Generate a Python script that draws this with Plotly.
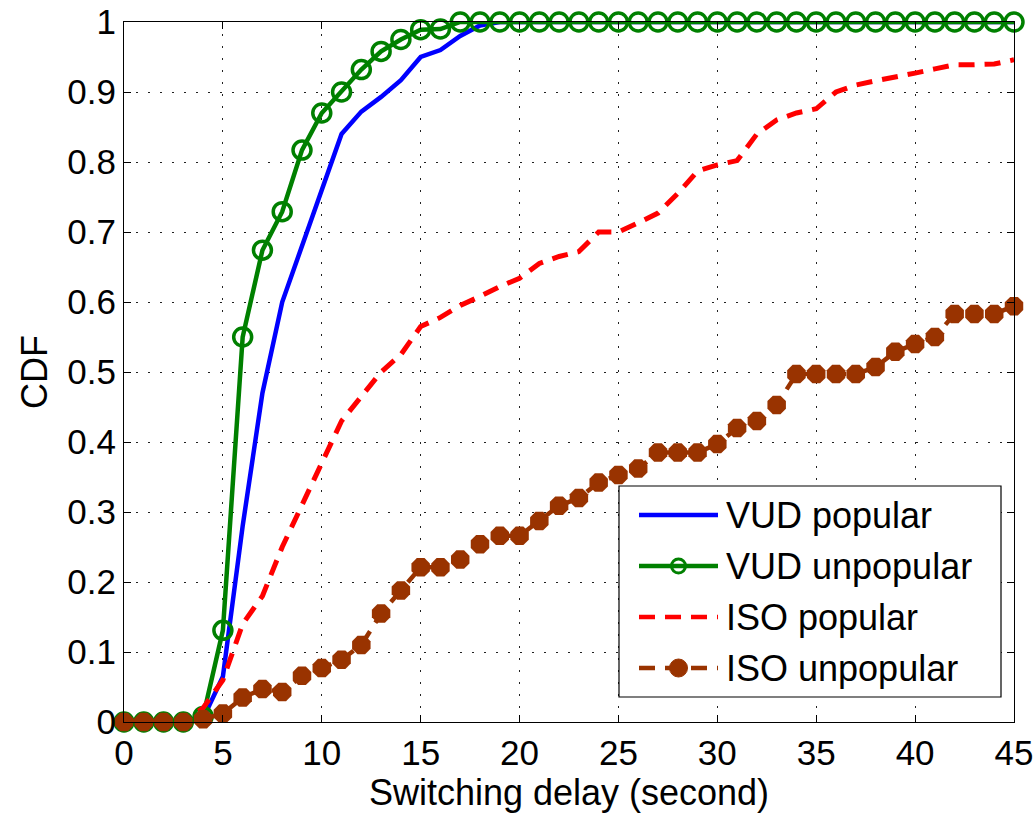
import plotly.graph_objects as go

# Switching delay (seconds), sampled at every integer second
delay = list(range(0, 46))

vud_popular = [0, 0, 0, 0, 0.005, 0.065, 0.28, 0.47, 0.60, 0.68,
               0.76, 0.84, 0.872, 0.893, 0.917, 0.95, 0.96, 0.98, 0.995, 1.0,
               1.0, 1.0, 1.0, 1.0, 1.0, 1.0, 1.0, 1.0, 1.0, 1.0,
               1.0, 1.0, 1.0, 1.0, 1.0, 1.0, 1.0, 1.0, 1.0, 1.0,
               1.0, 1.0, 1.0, 1.0, 1.0, 1.0]

vud_unpopular = [0, 0, 0, 0, 0.008, 0.131, 0.55, 0.674, 0.729, 0.817,
                 0.87, 0.90, 0.932, 0.958, 0.975, 0.989, 0.99, 1.0, 1.0, 1.0,
                 1.0, 1.0, 1.0, 1.0, 1.0, 1.0, 1.0, 1.0, 1.0, 1.0,
                 1.0, 1.0, 1.0, 1.0, 1.0, 1.0, 1.0, 1.0, 1.0, 1.0,
                 1.0, 1.0, 1.0, 1.0, 1.0, 1.0]

iso_popular = [0, 0, 0, 0, 0.02, 0.06, 0.14, 0.18, 0.25, 0.31,
               0.37, 0.43, 0.465, 0.50, 0.525, 0.565, 0.578, 0.595, 0.608, 0.622,
               0.634, 0.655, 0.665, 0.672, 0.70, 0.70, 0.713, 0.727, 0.755, 0.787,
               0.796, 0.802, 0.84, 0.86, 0.87, 0.876, 0.90, 0.91, 0.916, 0.921,
               0.927, 0.933, 0.939, 0.939, 0.94, 0.946]

iso_unpopular = [0, 0, 0, 0, 0.004, 0.012, 0.035, 0.047, 0.043, 0.066,
                 0.077, 0.089, 0.11, 0.155, 0.188, 0.221, 0.221, 0.232, 0.254, 0.266,
                 0.266, 0.287, 0.309, 0.32, 0.342, 0.353, 0.362, 0.385, 0.385, 0.385,
                 0.397, 0.42, 0.43, 0.453, 0.497, 0.497, 0.497, 0.497, 0.507, 0.529,
                 0.54, 0.55, 0.583, 0.583, 0.583, 0.594]

series_names = ["VUD popular", "VUD unpopular", "ISO popular", "ISO unpopular"]
x_ticks = [0, 5, 10, 15, 20, 25, 30, 35, 40, 45]
y_ticks = [0, 0.1, 0.2, 0.3, 0.4, 0.5, 0.6, 0.7, 0.8, 0.9, 1]
y_tick_text = ["0", "0.1", "0.2", "0.3", "0.4", "0.5", "0.6", "0.7", "0.8", "0.9", "1"]

BLUE = "#0000FF"
GREEN = "#008000"
RED = "#FF0000"
BROWN = "#993300"
FONT = "Arial, Liberation Sans, Helvetica, sans-serif"
DASH = "16px,10px"

fig = go.Figure()

fig.add_trace(go.Scatter(
    x=delay, y=vud_popular, mode="lines", name=series_names[0],
    line=dict(color=BLUE, width=4.5), cliponaxis=False))
fig.add_trace(go.Scatter(
    x=delay, y=vud_unpopular, mode="lines+markers", name=series_names[1],
    line=dict(color=GREEN, width=4.5),
    marker=dict(symbol="circle-open", size=18, color=GREEN, line=dict(width=3.5)),
    cliponaxis=False))
fig.add_trace(go.Scatter(
    x=delay, y=iso_popular, mode="lines", name=series_names[2],
    line=dict(color=RED, width=5, dash=DASH), cliponaxis=False))
fig.add_trace(go.Scatter(
    x=delay, y=iso_unpopular, mode="lines+markers", name=series_names[3],
    line=dict(color=BROWN, width=4.5, dash=DASH),
    marker=dict(symbol="octagon", size=20, color=BROWN),
    cliponaxis=False))

# Legend box drawn with shapes so the sample lines can be long
L, R, T, B = 124, 1014, 22, 722


def px_x(p):
    return (p - L) / (R - L)


def px_y(p):
    return (B - p) / (B - T)


shapes = [dict(type="rect", xref="paper", yref="paper",
               x0=px_x(619), x1=px_x(1001), y0=px_y(697), y1=px_y(486),
               line=dict(color="black", width=1.2), fillcolor="white", layer="above")]
annotations = []
styles = [(BLUE, "solid", None), (GREEN, "solid", "open"),
          (RED, DASH, None), (BROWN, DASH, "filled")]
row_y = [515, 566, 617, 668]
for name, (col, dash, mk), ry in zip(series_names, styles, row_y):
    yy = px_y(ry)
    shapes.append(dict(type="line", xref="paper", yref="paper",
                       x0=px_x(639), x1=px_x(718), y0=yy, y1=yy,
                       line=dict(color=col, width=4.5, dash=dash), layer="above"))
    if mk == "open":
        shapes.append(dict(type="circle", xref="paper", yref="paper",
                           xsizemode="pixel", ysizemode="pixel",
                           xanchor=px_x(678.5), yanchor=yy,
                           x0=-7, x1=7, y0=-7, y1=7,
                           line=dict(color=col, width=3), layer="above"))
    elif mk == "filled":
        shapes.append(dict(type="circle", xref="paper", yref="paper",
                           xsizemode="pixel", ysizemode="pixel",
                           xanchor=px_x(678.5), yanchor=yy,
                           x0=-9, x1=9, y0=-9, y1=9,
                           line=dict(color=col, width=1), fillcolor=col, layer="above"))
    annotations.append(dict(xref="paper", yref="paper", x=px_x(724), y=yy,
                            text=name, showarrow=False, xanchor="left",
                            yanchor="middle", font=dict(size=36, color="black", family=FONT)))

axis_common = dict(
    showline=True, linecolor="black", linewidth=1.2, mirror="ticks",
    ticks="inside", ticklen=7, tickwidth=1, tickcolor="black",
    showgrid=True, gridcolor="#222222", gridwidth=1, griddash="2px,10px",
    zeroline=False, automargin=False,
    tickfont=dict(size=35, color="black", family=FONT),
)

fig.update_layout(
    width=1036, height=816,
    margin=dict(l=L, r=1036 - R, t=T, b=816 - B),
    paper_bgcolor="white", plot_bgcolor="white",
    showlegend=False,
    font=dict(family=FONT, color="black"),
    xaxis=dict(range=[0, 45], tickvals=x_ticks, ticktext=[str(v) for v in x_ticks],
               title=dict(text="Switching delay (second)", font=dict(size=36), standoff=6),
               **axis_common),
    yaxis=dict(range=[0, 1], tickvals=y_ticks, ticktext=y_tick_text,
               title=dict(text="CDF", font=dict(size=36), standoff=8),
               **axis_common),
    shapes=shapes,
    annotations=annotations,
)

fig.write_html("out.html")
